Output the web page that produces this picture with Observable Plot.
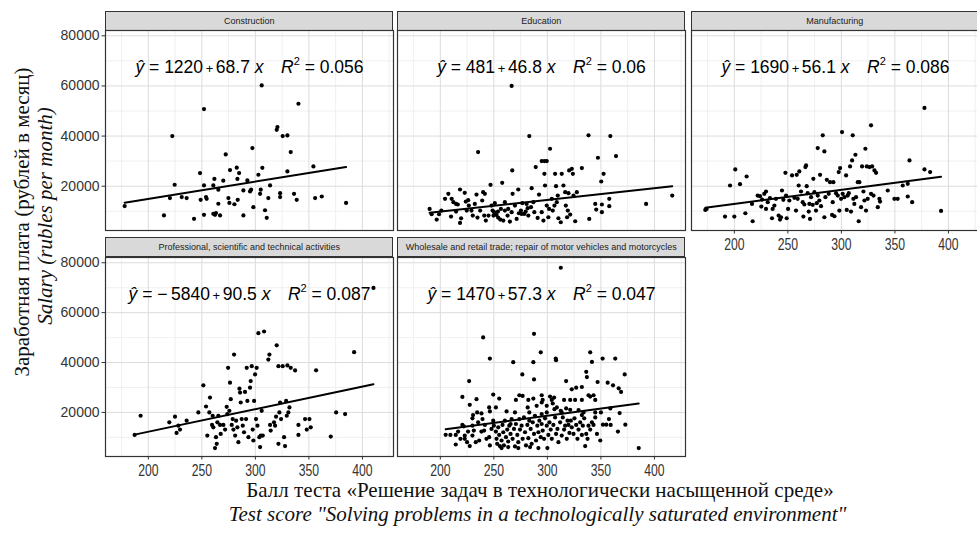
<!DOCTYPE html>
<html><head><meta charset="utf-8">
<script src="https://cdn.jsdelivr.net/npm/d3@7"></script>
<script src="https://cdn.jsdelivr.net/npm/@observablehq/plot@0.6"></script>
<style>
html,body{margin:0;padding:0;background:#fff;}
body{width:977px;height:534px;overflow:hidden;position:relative;font-family:"Liberation Sans",Arial,sans-serif;}
.strip{position:absolute;box-sizing:border-box;background:#d9d9d9;border:1.2px solid #333;font-size:9px;color:#1a1a1a;text-align:center;white-space:nowrap;display:flex;align-items:center;justify-content:center;}
.pan{position:absolute;}
.pan svg{max-width:none;display:block;}
.ttl{position:absolute;white-space:nowrap;text-align:center;font-family:"Liberation Serif","Times New Roman",serif;font-size:21px;line-height:24px;color:#111;}
#y1{left:22px;top:222px;transform:translate(-50%,-50%) rotate(-90deg);}
#y2{left:44.5px;top:216px;transform:translate(-50%,-50%) rotate(-90deg);font-style:italic;}
#x1{left:540px;top:478px;transform:translateX(-50%);}
#x2{left:537.5px;top:502px;transform:translateX(-50%);font-style:italic;}
</style></head>
<body>
<div class="ttl" id="y1">Заработная плата (рублей в месяц)</div>
<div class="ttl" id="y2">Salary (rubles per month)</div>
<div class="ttl" id="x1">Балл теста «Решение задач в технологически насыщенной среде»</div>
<div class="ttl" id="x2">Test score "Solving problems in a technologically saturated environment"</div>
<script>
// ---------- data ----------
const industries = [
  "Construction",
  "Education",
  "Manufacturing",
  "Professional, scientific and technical activities",
  "Wholesale and retail trade; repair of motor vehicles and motorcycles"
];
const interceptVals = [1220, 481, 1690, -5840, 1470];
const slopeVals = [68.7, 46.8, 56.1, 90.5, 57.3];
const r2Labels = ["0.056", "0.06", "0.086", "0.087", "0.047"];
const xTicks = [200, 250, 300, 350, 400];
const xMinor = [175, 225, 275, 325, 375, 425];
const yTicks = [20000, 40000, 60000, 80000];
const yMinor = [10000, 30000, 50000, 70000];
const xDomain = [160, 429];
const yDomain = [2330, 82110];

const construction = [[177.9,12060],[214.6,8330],[222.4,39980],[224.6,20570],[220.2,15250],[231.2,15650],[235.8,15250],[242.7,7000],[248.3,25220],[248.9,14580],[252,50750],[252,20300],[252,8600],[253.9,15650],[254.5,14980],[261.7,22900],[260.7,20300],[260.7,9000],[262.3,8600],[263.2,9270],[265.4,18600],[265.4,13000],[267,8330],[270,22200],[272.3,32670],[274.8,15250],[276.3,26450],[275.7,13340],[280.4,12800],[282.6,27380],[283.2,22900],[284.8,25220],[283.5,14580],[288.8,8330],[288.8,18300],[292.5,22300],[295,17900],[296,18600],[297.2,35200],[298.1,11650],[302.8,24560],[304.4,16970],[305.9,60190],[306.5,27350],[305,18600],[309,10400],[310.6,7400],[312.1,15250],[313.7,20300],[319.9,42500],[320.6,43600],[323.1,17200],[323.1,15650],[325.5,39980],[329.9,40240],[329.9,25900],[333,33600],[336.1,16970],[338.6,14580],[340.2,52900],[354.2,27880],[355.8,15250],[362,15900],[384.7,13340]];

const education = [[190,10950],[191.9,8820],[196.6,6690],[198.8,8820],[204.4,14950],[207.5,16950],[210.6,14950],[212.2,13620],[210,7890],[214.7,12950],[216.3,12700],[218.4,18680],[219.4,7200],[218.4,5350],[222.8,17350],[223.8,13880],[226,14420],[226.6,12290],[229.1,10280],[232.2,12950],[233.8,16680],[234.7,7480],[235.3,33610],[239.1,14290],[240,17620],[241,8290],[241.6,16950],[242.5,6290],[246.9,20550],[247.8,12290],[248.8,10280],[250.3,9620],[250.9,13220],[252.5,8560],[254,7480],[256.6,10950],[257.8,21350],[258.8,6290],[260.3,13620],[262.8,8290],[265,5880],[266.6,9620],[267.2,26280],[266.6,60000],[267.5,16950],[269.7,12290],[271.3,6950],[272.8,18680],[273.4,9220],[275.3,10280],[276.6,13220],[278.4,8950],[280.6,12950],[282.2,8290],[283.1,40000],[285.3,19210],[286.9,13620],[287.8,9620],[289.1,27620],[290.9,7350],[292.2,16680],[294.7,30010],[297.2,30010],[299.4,30010],[297.2,24950],[297.8,20280],[299.4,12290],[300.9,7620],[302.5,34950],[304.1,14950],[305,10280],[307.2,24950],[308.1,20020],[308.8,13620],[310.3,7220],[312.5,5620],[313.4,24950],[315,20280],[316.6,17620],[317.2,12290],[319.1,10280],[320.3,26280],[322.8,26950],[323.8,24950],[324.4,16280],[321.3,8690],[326,6020],[327.5,17620],[332.2,27220],[338.4,40280],[339.1,6950],[344.7,12950],[345.6,10680],[347.2,31350],[350.3,21880],[350.9,9620],[352.5,24950],[350.9,12700],[357.8,14950],[357.8,12020],[358.8,40000],[364.1,32010],[392.2,12950],[416.6,16280],[249.7,8290],[253.8,9890],[256,6690],[260.3,10280],[263.4,10950],[275.9,8950],[279.7,9890],[281.6,11220],[284.7,11620],[294.7,9620],[296.3,6290],[301.6,10950],[306.6,12290],[309.7,16280],[318.4,7620],[319.7,17220],[224.7,10280],[237.2,10280],[245,8290],[230.3,8290],[214.7,9890],[201,10280]];

const manufacturing = [[172.9,10550],[174.1,10950],[191.3,7890],[196,20280],[200.9,26680],[200,7890],[205.3,20820],[210.3,9220],[211.5,23880],[217.1,6020],[216.5,12950],[221.8,16280],[224,16020],[225.2,11890],[225.9,14680],[228,16950],[229.6,17880],[229.6,10950],[231.2,13620],[233.3,15220],[235.2,7220],[235.8,10950],[237.4,12290],[238.9,14950],[241.4,8290],[242.7,6690],[243.6,7620],[244.5,18280],[245.8,14550],[247.7,25350],[248.3,16280],[248.9,7220],[250.2,10950],[251.4,14290],[253.9,24280],[256.1,15350],[257.6,10280],[258.3,24550],[259.2,14950],[260.1,20280],[260.7,25880],[262.3,17880],[263.9,13620],[264.5,7890],[265.4,12700],[266.4,27620],[267,28280],[267.6,20020],[268.5,17220],[269.5,9890],[270.1,12950],[270.7,6950],[271.7,15620],[273.2,12560],[273.8,22950],[274.8,17620],[276.3,10280],[277,13220],[277.9,35200],[277.9,16280],[279.4,14290],[280.1,24550],[281,12020],[282.6,40280],[284.1,33880],[284.1,7620],[285.1,15620],[286.4,22550],[288.2,16950],[289.4,21620],[291.3,8560],[291.9,13620],[292.5,21620],[293.5,8020],[295,17220],[296.6,16280],[297.5,25620],[298.1,10280],[298.8,27220],[299.7,14950],[300.6,41610],[301.2,16950],[302.8,15620],[304.4,24280],[305,10550],[305.9,16280],[306.9,17220],[308.1,27880],[309,9890],[310,30280],[310.6,40280],[311.2,14950],[312.1,12950],[313.1,32550],[313.7,15620],[315.3,21620],[316.2,6020],[316.8,21620],[318.4,11620],[319.3,27880],[320.6,17880],[321.5,14290],[322.4,34950],[323,10280],[323.7,27880],[324.6,14950],[326.2,27620],[327.7,16950],[328.7,27880],[327.7,44280],[330,16280],[330.9,26280],[332.4,25350],[334,11620],[335.5,14950],[336.1,13880],[343.3,18280],[349.5,14950],[352.6,14950],[357.3,20280],[362,20950],[362,15890],[363.6,30280],[366.1,13620],[377.6,51210],[377.6,26680],[382.9,25620],[393.1,10150]];

const professional = [[187.2,10990],[192.8,18670],[219.6,16030],[224.9,18280],[226.4,11790],[228,14700],[229.6,13110],[235.8,16690],[246.7,20000],[251.4,30860],[253.9,22380],[255.1,10730],[257,20000],[257.6,25960],[259.5,14970],[260.1,18670],[260.7,14040],[262.3,5700],[263.2,10070],[263.9,7420],[264.5,16030],[265.4,18670],[267,14970],[267.6,11390],[270.1,14970],[271.7,13110],[273.2,22250],[273.8,19340],[274.5,37880],[275.7,20660],[276.3,31920],[277,25300],[277.9,14970],[278.8,17350],[279.5,13110],[280.1,43180],[281.1,10730],[282,16690],[283.2,14040],[284.1,8080],[285.1,29540],[285.7,27950],[286.3,23970],[287.2,17350],[288.2,14700],[289.4,12050],[290.3,28210],[291.3,17350],[291.9,37880],[292.5,24630],[293.5,10070],[295,29930],[295.6,32580],[296.6,38530],[297.5,13110],[298.1,8740],[298.8,24630],[299.7,35230],[300.6,17350],[301.2,37880],[301.9,14700],[302.8,51790],[303.7,10070],[304.4,6090],[305,10730],[305.9,20660],[306.9,10730],[308.1,52450],[313.1,43180],[312.1,41190],[313.7,14970],[314.3,12720],[317.4,16030],[318.4,14700],[319.3,18280],[319.9,46890],[321.5,38530],[321.5,7420],[322.4,20000],[323.1,23970],[324,17350],[325.5,38530],[326.8,10070],[327.7,6490],[328.7,24630],[329.3,18670],[329.9,38850],[330.8,20000],[331.8,22000],[333,37880],[337.1,36820],[340.2,14970],[340.2,10990],[346.4,17350],[348,13110],[350.5,17350],[351.7,14040],[356.7,36890],[370.4,10330],[375.4,20000],[383.8,19340],[392.2,44170],[410.3,69930]];

const wholesale = [[312.5,78010],[240,50070],[287.5,51520],[293.8,44110],[246.3,41590],[268.1,40130],[286.9,40130],[307.8,41590],[308.1,40930],[340,44110],[341.6,40260],[351.6,41590],[363.4,41590],[276.6,35230],[287.5,33240],[336.3,36290],[336.9,34170],[372.2,35230],[226.9,32580],[317.5,32580],[346.9,32190],[356.3,31920],[361.3,30860],[366.6,29670],[368.8,28210],[322.8,29270],[326.9,29930],[332.2,30200],[249.4,27150],[220.6,26220],[227.5,23050],[233.8,25300],[255,25560],[270.6,25030],[273.8,26890],[276.9,26620],[282.2,25030],[286.9,25560],[294.7,26890],[295.6,25030],[302.5,26360],[304.1,25030],[306.3,25960],[315.6,25030],[321.3,25030],[325.9,25030],[332.2,25030],[338.4,26890],[340,26360],[343.1,26890],[344.7,25030],[230.6,18940],[230,17620],[234.4,20000],[238.4,19600],[245.6,21990],[246.3,20400],[251.9,21990],[261.9,20400],[269.7,20000],[281.6,21990],[290,22650],[294.7,23970],[299.4,22650],[305,23570],[308.8,21990],[312.5,20660],[321.3,21060],[329.1,20930],[333.8,20000],[350,20000],[358.8,21590],[367.5,19740],[357.5,17350],[351.9,15100],[355,15100],[359.1,14970],[372.8,15100],[365.9,12320],[349.4,8740],[335.3,6490],[385.3,5700],[300,5700],[209.4,10990],[214.4,10990],[214.4,7150],[221.9,14440],[222.8,10730],[222.8,9400],[225,8080],[227.5,6490],[230,14700],[230,10730],[233.1,8080],[236.3,8740],[238.4,12320],[241.6,14970],[243.1,9400],[245.6,10070],[246.3,6760],[247.8,13380],[249.4,16690],[251.9,12320],[252.5,9400],[253.1,7420],[254.1,14040],[255,10990],[255.6,6490],[257.2,8740],[258.1,14970],[258.8,12050],[259.4,6760],[260.3,16690],[261.3,10070],[262.5,13110],[263.4,8340],[264.4,14700],[265.6,11390],[266.6,17350],[267.5,9400],[268.8,13380],[269.7,6360],[270.6,15360],[271.9,10990],[272.8,8080],[273.8,17350],[274.4,13110],[275.9,14700],[276.9,9400],[278.1,18010],[279.1,12050],[280,6760],[281.3,14970],[282.2,9670],[283.1,16690],[284.4,13380],[285.3,7420],[286.3,16030],[287.5,11390],[288.4,18670],[289.4,8740],[290.6,14700],[291.6,12050],[292.5,16690],[293.8,10070],[294.7,15360],[295.6,12720],[296.9,9400],[297.8,17620],[299.4,14700],[300.9,10990],[301.9,16030],[303.1,13110],[304.1,9400],[305.6,14970],[307.2,18010],[308.1,11390],[309.4,13380],[310.3,8080],[311.9,16030],[313.4,10730],[314.4,18010],[315.6,13110],[316.6,14700],[318.1,9400],[318.8,16690],[319.7,14970],[320.6,11790],[321.9,16690],[322.8,14040],[324.4,11390],[325.3,17620],[326.9,14970],[328.1,9400],[329.1,13110],[330.6,16030],[332.2,10990],[333.1,14700],[334.4,17620],[336.3,11390],[337.5,9400],[338.4,14700],[340,13110],[341.6,16030],[343.1,14970],[344.7,18010],[346.3,11390],[240.9,12720],[239.4,17350],[235.3,16030],[231.3,12720],[225.9,12320],[220.6,14970],[218.8,9400],[216.6,12320],[257.2,5700],[263.4,6090],[272.8,5700],[283.8,6090],[291.6,5700],[250,14700],[265.6,15360],[283.1,20000],[294.7,19340],[299.4,20000],[306.6,21320],[313.4,20000],[317.5,21590],[332.2,18940],[344.7,20000],[205,11000]];

const panelData = [construction, education, manufacturing, professional, wholesale];

// ---------- layout ----------
const colLeft = [105.3, 397.3, 690.7];
const rowTop = [30, 256.7];
const panelW = 288;
const panelH = [200, 199];
const cells = [[0,0],[0,1],[0,2],[1,0],[1,1]];
const ns = "http://www.w3.org/2000/svg";

function fillEq(textEl, i) {
  textEl.textContent = "";
  textEl.setAttribute("style", "white-space:pre");
  const a = interceptVals[i] < 0 ? "\u2212\u2009" + Math.abs(interceptVals[i]) : String(interceptVals[i]);
  const parts = [
    {t: "ŷ", italic: true},
    {t: " = " + a},
    {t: "\u2009+\u2009", size: 13},
    {t: slopeVals[i] + " "},
    {t: "x", italic: true},
    {t: "\u2002\u2002"},
    {t: "R", italic: true},
    {t: "2", size: 11, dy: -8},
    {t: " = " + r2Labels[i], dy: 8}
  ];
  for (const p of parts) {
    const ts = document.createElementNS(ns, "tspan");
    ts.textContent = p.t;
    if (p.italic) ts.setAttribute("font-style", "italic");
    if (p.size) ts.setAttribute("font-size", p.size);
    if (p.dy) ts.setAttribute("dy", p.dy);
    textEl.appendChild(ts);
  }
}

cells.forEach(([r, c], i) => {
  const data = panelData[i];
  const showY = c === 0;
  const showX = (r === 1) || (r === 0 && c === 2);
  const w = panelW, h = panelH[r];
  const mL = showY ? 52 : 2, mR = 2, mT = 2, mB = showX ? 28 : 2;
  const ext = d3.extent(data, d => d[0]);
  const fit = ext.map(x => ({x, y: interceptVals[i] + slopeVals[i] * x}));

  // strip
  const strip = document.createElement("div");
  strip.className = "strip";
  strip.textContent = industries[i];
  strip.style.left = colLeft[c] + "px";
  strip.style.top = (rowTop[r] - 19.5) + "px";
  strip.style.width = w + "px";
  strip.style.height = "20.1px";
  document.body.appendChild(strip);

  const marks = [
    Plot.gridX(xMinor, {stroke: "#ececec", strokeOpacity: 1, strokeWidth: 0.8}),
    Plot.gridY(yMinor, {stroke: "#ececec", strokeOpacity: 1, strokeWidth: 0.8}),
    Plot.gridX(xTicks, {stroke: "#dcdcdc", strokeOpacity: 1, strokeWidth: 1}),
    Plot.gridY(yTicks, {stroke: "#dcdcdc", strokeOpacity: 1, strokeWidth: 1}),
    Plot.line(fit, {x: "x", y: "y", stroke: "black", strokeWidth: 2}),
    Plot.dot(data, {x: d => d[0], y: d => d[1], r: 2.1, fill: "black", stroke: "none"}),
    Plot.text([industries[i]], {frameAnchor: "top", dy: 37, lineAnchor: "middle", text: d => d, fontSize: 17.5, fill: "black"}),
    Plot.frame({stroke: "#333", strokeWidth: 1.2})
  ];
  if (showY) marks.push(Plot.axisY(yTicks, {tickSize: 3.5, tickPadding: 2.5, tickFormat: d3.format("d"), fontSize: 14, label: null}));
  if (showX) marks.push(Plot.axisX(xTicks, {tickSize: 3.5, tickPadding: 3.5, fontSize: 17, label: null}));

  const svg = Plot.plot({
    width: mL + w + mR, height: mT + h + mB,
    marginLeft: mL, marginRight: mR, marginTop: mT, marginBottom: mB,
    style: {background: "transparent", color: "#333", fontFamily: "Liberation Sans, Arial, sans-serif"},
    x: {domain: xDomain, axis: showX ? undefined : null},
    y: {domain: yDomain, axis: showY ? undefined : null},
    marks
  });
  const div = document.createElement("div");
  div.className = "pan";
  div.style.left = (colLeft[c] - mL) + "px";
  div.style.top = (rowTop[r] - mT) + "px";
  div.appendChild(svg);
  document.body.appendChild(div);

  const t = svg.querySelector('g[aria-label="text"] text');
  if (t) fillEq(t, i);
  if (showX) {
    svg.querySelectorAll('g[aria-label="x-axis tick label"] text').forEach(el => {
      const L = el.getComputedTextLength();
      el.setAttribute("textLength", (L * 0.72).toFixed(1));
      el.setAttribute("lengthAdjust", "spacingAndGlyphs");
    });
  }
});
</script>
</body></html>
